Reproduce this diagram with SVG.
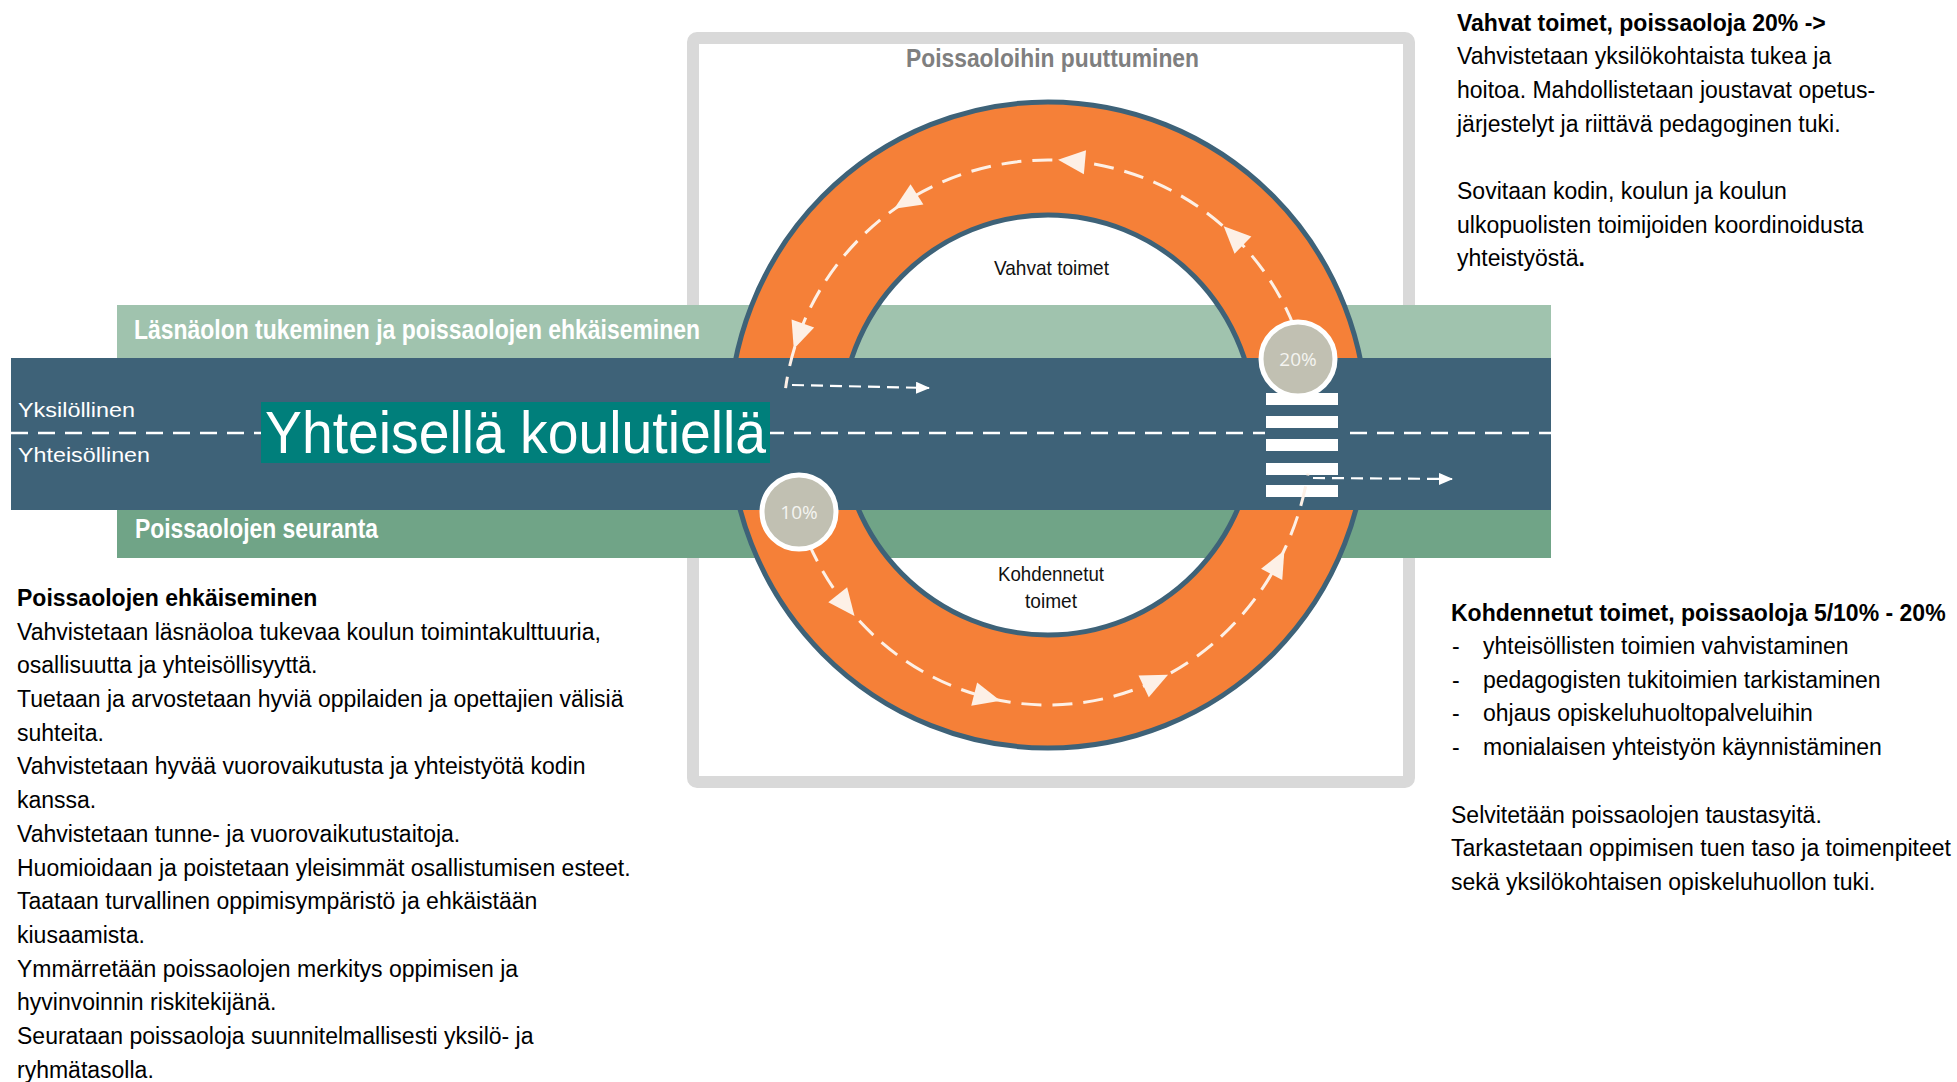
<svg xmlns="http://www.w3.org/2000/svg" width="1957" height="1082" viewBox="0 0 1957 1082">
<defs>
<style>
.sans{font-family:"Liberation Sans",Arial,"DejaVu Sans",sans-serif;}
.narrow{font-family:"Liberation Sans Narrow","Liberation Sans",Arial,sans-serif;}
.body{font-size:23px;fill:#000;}
.b{font-weight:bold;}
.bandlabel{font-size:27px;font-weight:bold;fill:#fff;}
.lane{font-size:21px;fill:#fff;}
.ringlabel{font-size:21px;fill:#111;}
.pct{font-family:"Open Sans","Liberation Sans",sans-serif;font-size:19px;fill:#f4f4f0;text-anchor:middle;}
.arc{fill:none;stroke:#fdf0e6;stroke-width:3;stroke-dasharray:20 11;}
.hline{fill:none;stroke:#fff;stroke-width:2.2;stroke-dasharray:12 7;}
.ahead{fill:#fdf0e6;stroke:none;}
.bar{fill:#fff;}
.pctc{fill:#c1c0b2;stroke:#fff;stroke-width:5;}
.centerline{stroke:#fff;stroke-width:2.5;stroke-dasharray:17 10;fill:none;}
</style>
<marker id="tip" viewBox="0 0 14 12" refX="13" refY="6" markerWidth="14" markerHeight="12" markerUnits="userSpaceOnUse" orient="auto">
<path d="M0,0 L14,6 L0,12 z" fill="#fff" stroke="none"/>
</marker>
<polygon id="ah" points="14,0 -13,-12 -13,12"/>
</defs>

<rect width="1957" height="1082" fill="#fff"/>

<g id="frame">
<rect x="693" y="38" width="716" height="744" rx="4" fill="#fff" stroke="#d9d9d9" stroke-width="12"/>
<text class="narrow b" x="906" y="67" font-size="25" fill="#7f7f7f" textLength="293" lengthAdjust="spacingAndGlyphs">Poissaoloihin puuttuminen</text>
</g>

<g id="band-top">
<rect x="117" y="305" width="1434" height="53" fill="#a0c3ae"/>
<text class="narrow bandlabel" x="134" y="339" textLength="566" lengthAdjust="spacingAndGlyphs">Läsnäolon tukeminen ja poissaolojen ehkäiseminen</text>
</g>

<g id="band-bottom">
<rect x="117" y="510" width="1434" height="48" fill="#70a487"/>
<text class="narrow bandlabel" x="135" y="538" font-size="26" textLength="243" lengthAdjust="spacingAndGlyphs">Poissaolojen seuranta</text>
</g>

<g id="ring">
<path d="M729,425 a319,323 0 1,0 638,0 a319,323 0 1,0 -638,0 Z M841,425 a207,210 0 1,0 414,0 a207,210 0 1,0 -414,0 Z" fill="#f58038" fill-rule="evenodd" stroke="#3e6278" stroke-width="5"/>
<text class="narrow ringlabel" x="994" y="275" textLength="115" lengthAdjust="spacingAndGlyphs">Vahvat toimet</text>
<text class="narrow ringlabel" x="998" y="581" textLength="106" lengthAdjust="spacingAndGlyphs">Kohdennetut</text>
<text class="narrow ringlabel" x="1025" y="608" textLength="52" lengthAdjust="spacingAndGlyphs">toimet</text>
</g>

<g id="road">
<rect x="11" y="358" width="1540" height="152" fill="#3e6278"/>
<line class="centerline" x1="11" y1="433" x2="1265" y2="433"/>
<line class="centerline" x1="1350" y1="433" x2="1551" y2="433"/>
<text class="sans lane" x="18" y="417" textLength="117" lengthAdjust="spacingAndGlyphs">Yksilöllinen</text>
<text class="sans lane" x="18" y="462" textLength="132" lengthAdjust="spacingAndGlyphs">Yhteisöllinen</text>
</g>

<g id="title-box">
<rect x="261" y="402" width="509" height="61" fill="#007f7b"/>
<text class="sans" x="265" y="453" font-size="59" fill="#fff" textLength="501" lengthAdjust="spacingAndGlyphs">Yhteisellä koulutiellä</text>
</g>

<g id="crosswalk">
<rect class="bar" x="1266" y="393" width="72" height="12"/>
<rect class="bar" x="1266" y="416" width="72" height="12"/>
<rect class="bar" x="1266" y="439" width="72" height="12"/>
<rect class="bar" x="1266" y="463" width="72" height="12"/>
<rect class="bar" x="1266" y="485" width="72" height="12"/>
</g>

<g id="connectors">
<path class="arc" d="M1293.7,325.7 A265,265 0 0,0 785.6,388.1"/>
<path class="hline" d="M792,385 L929,388" marker-end="url(#tip)"/>
<path class="arc" d="M808.7,543.3 A264,280 0 0,0 1308,473.6"/>
<path class="hline" d="M1313,478 L1452,479" marker-end="url(#tip)"/>
<use href="#ah" class="ahead" transform="translate(1072,161) rotate(-174.8)"/>
<use href="#ah" class="ahead" transform="translate(906,201.3) rotate(147.6)"/>
<use href="#ah" class="ahead" transform="translate(1233.7,236) rotate(-135.5)"/>
<use href="#ah" class="ahead" transform="translate(798.5,335.7) rotate(109.7)"/>
<use href="#ah" class="ahead" transform="translate(845.8,605) rotate(51.6)"/>
<use href="#ah" class="ahead" transform="translate(986.8,697.4) rotate(14.2)"/>
<use href="#ah" class="ahead" transform="translate(1155.4,680.8) rotate(-25.3)"/>
<use href="#ah" class="ahead" transform="translate(1277.8,562.9) rotate(-61.9)"/>
</g>

<g id="marker-20">
<circle class="pctc" cx="1298" cy="359" r="37"/>
<text class="pct" x="1298" y="366">20%</text>
</g>
<g id="marker-10">
<circle class="pctc" cx="799" cy="512" r="37"/>
<text class="pct" x="799" y="519">10%</text>
</g>

<g id="text-vahvat" class="sans body">
<text class="b" x="1457" y="31">Vahvat toimet, poissaoloja 20% -&gt;</text>
<text x="1457" y="64">Vahvistetaan yksilökohtaista tukea ja</text>
<text x="1457" y="98">hoitoa. Mahdollistetaan joustavat opetus-</text>
<text x="1457" y="132">järjestelyt ja riittävä pedagoginen tuki.</text>
<text x="1457" y="199">Sovitaan kodin, koulun ja koulun</text>
<text x="1457" y="233">ulkopuolisten toimijoiden koordinoidusta</text>
<text x="1457" y="266">yhteistyöstä<tspan class="b">.</tspan></text>
</g>

<g id="text-kohdennetut" class="sans body">
<text class="b" x="1451" y="621">Kohdennetut toimet, poissaoloja 5/10% - 20%</text>
<text x="1452" y="654">-</text><text x="1483" y="654">yhteisöllisten toimien vahvistaminen</text>
<text x="1452" y="688">-</text><text x="1483" y="688">pedagogisten tukitoimien tarkistaminen</text>
<text x="1452" y="721">-</text><text x="1483" y="721">ohjaus opiskeluhuoltopalveluihin</text>
<text x="1452" y="755">-</text><text x="1483" y="755">monialaisen yhteistyön käynnistäminen</text>
<text x="1451" y="823">Selvitetään poissaolojen taustasyitä.</text>
<text x="1451" y="856">Tarkastetaan oppimisen tuen taso ja toimenpiteet</text>
<text x="1451" y="890">sekä yksilökohtaisen opiskeluhuollon tuki.</text>
</g>

<g id="text-ehkaiseminen" class="sans body">
<text class="b" x="17" y="606">Poissaolojen ehkäiseminen</text>
<text x="17" y="640">Vahvistetaan läsnäoloa tukevaa koulun toimintakulttuuria,</text>
<text x="17" y="673">osallisuutta ja yhteisöllisyyttä.</text>
<text x="17" y="707">Tuetaan ja arvostetaan hyviä oppilaiden ja opettajien välisiä</text>
<text x="17" y="741">suhteita.</text>
<text x="17" y="774">Vahvistetaan hyvää vuorovaikutusta ja yhteistyötä kodin</text>
<text x="17" y="808">kanssa.</text>
<text x="17" y="842">Vahvistetaan tunne- ja vuorovaikutustaitoja.</text>
<text x="17" y="876">Huomioidaan ja poistetaan yleisimmät osallistumisen esteet.</text>
<text x="17" y="909">Taataan turvallinen oppimisympäristö ja ehkäistään</text>
<text x="17" y="943">kiusaamista.</text>
<text x="17" y="977">Ymmärretään poissaolojen merkitys oppimisen ja</text>
<text x="17" y="1010">hyvinvoinnin riskitekijänä.</text>
<text x="17" y="1044">Seurataan poissaoloja suunnitelmallisesti yksilö- ja</text>
<text x="17" y="1078">ryhmätasolla.</text>
</g>
</svg>
